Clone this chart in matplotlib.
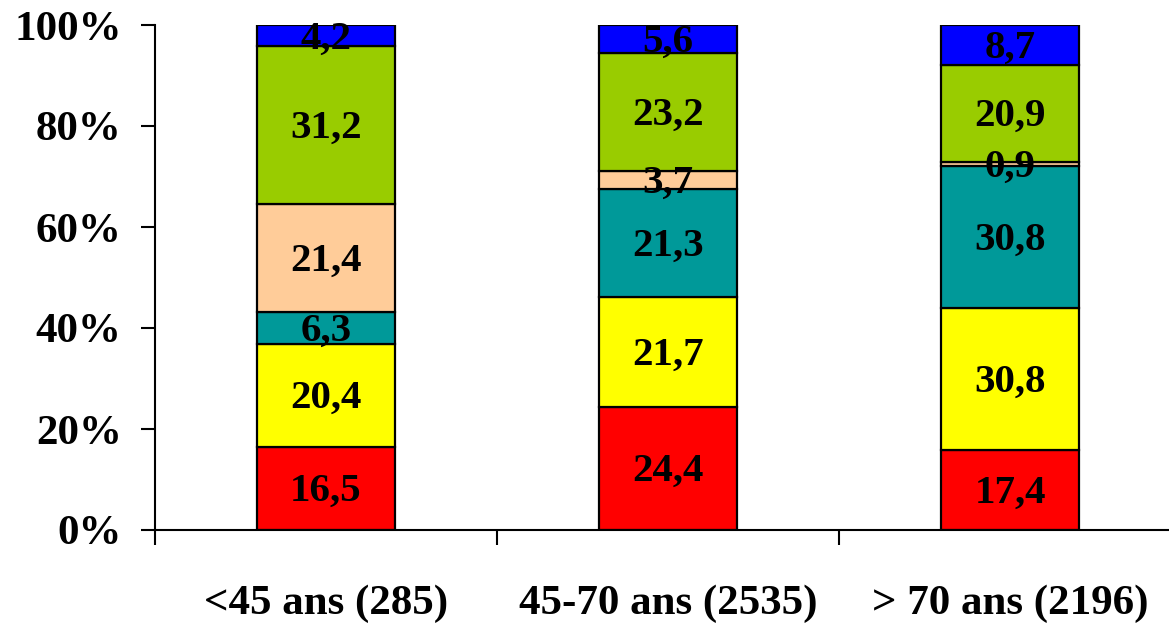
import matplotlib.pyplot as plt
import numpy as np

plt.rcParams['font.family'] = ['Liberation Serif', 'DejaVu Serif']
plt.rcParams['font.weight'] = 'bold'

categories = ['<45 ans (285)', '45-70 ans (2535)', '> 70 ans (2196)']
red = [16.5, 24.4, 17.4]
yellow = [20.4, 21.7, 30.8]
teal = [6.3, 21.3, 30.8]
peach = [21.4, 3.7, 0.9]
green = [31.2, 23.2, 20.9]
blue = [4.2, 5.6, 8.7]

series = [red, yellow, teal, peach, green, blue]
colors = ['#FF0000', '#FFFF00', '#009999', '#FFCC99', '#99CC00', '#0000FF']

data = np.array(series, dtype=float)
totals = data.sum(axis=0)
pct = data / totals * 100

fig = plt.figure(figsize=(11.69, 6.24), dpi=100)
ax = fig.add_axes([155 / 1169, 94 / 624, 1026 / 1169, 505 / 624])

x = np.arange(len(categories))
bottom = np.zeros(len(categories))
for vals, shown, col in zip(pct, data, colors):
    ax.bar(x, vals, bottom=bottom, width=0.406, color=col,
           edgecolor='black', linewidth=1.6)
    for i in range(len(x)):
        ax.annotate(f'{shown[i]:.1f}'.replace('.', ','),
                    (x[i], bottom[i] + vals[i] / 2), xytext=(0, -2.5),
                    textcoords='offset points', ha='center', va='center',
                    fontsize=29.5, fontweight='bold')
    bottom += vals

ax.set_xlim(-0.5, 2.5)
ax.set_ylim(0, 100)
ax.set_yticks([0, 20, 40, 60, 80, 100])
ax.set_yticklabels(['0%', '20%', '40%', '60%', '80%', '100%'])
ax.tick_params(axis='y', length=10, width=1.5, pad=14, labelsize=31)

ax.set_xticks(x)
ax.set_xticklabels(categories)
ax.tick_params(axis='x', which='major', length=0, pad=39, labelsize=31)
ax.set_xticks([-0.5, 0.5, 1.5], minor=True)
ax.tick_params(axis='x', which='minor', length=11, width=1.5)

for s in ['top', 'right']:
    ax.spines[s].set_visible(False)
for s in ['left', 'bottom']:
    ax.spines[s].set_linewidth(1.5)

plt.savefig('out.png', dpi=100)
